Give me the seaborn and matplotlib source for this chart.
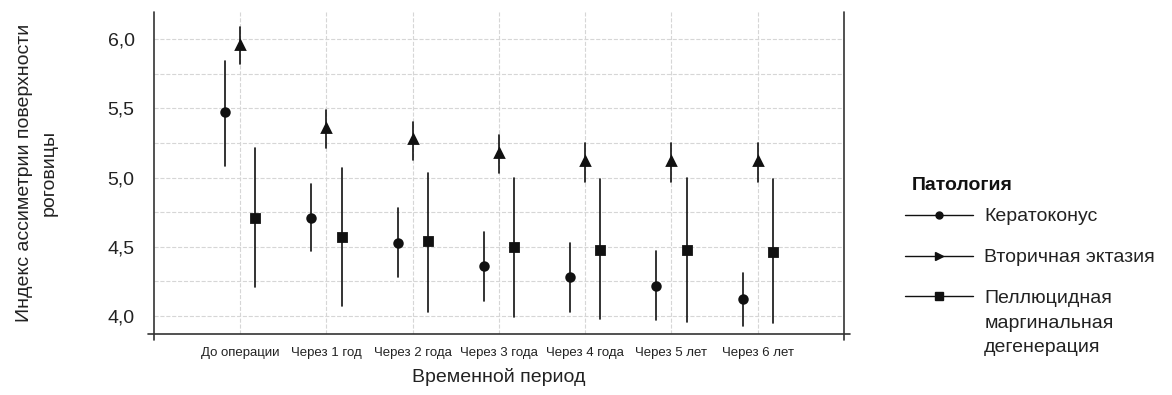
import pandas as pd
import matplotlib
matplotlib.use("Agg")
import matplotlib.pyplot as plt
import seaborn as sns
from matplotlib.lines import Line2D
from matplotlib.ticker import MultipleLocator, FuncFormatter

# Data (mean and error bar ends)
periods = ["До операции", "Через 1 год", "Через 2 года", "Через 3 года",
           "Через 4 года", "Через 5 лет", "Через 6 лет"]
groups = ["Кератоконус", "Вторичная эктазия",
          "Пеллюцидная маргинальная дегенерация"]

kc_mean = [5.47, 4.71, 4.53, 4.36, 4.28, 4.22, 4.12]
kc_low = [5.08, 4.47, 4.28, 4.11, 4.03, 3.97, 3.93]
kc_high = [5.84, 4.95, 4.78, 4.61, 4.53, 4.47, 4.31]

ek_mean = [5.96, 5.36, 5.28, 5.18, 5.12, 5.12, 5.12]
ek_low = [5.82, 5.21, 5.13, 5.03, 4.97, 4.97, 4.97]
ek_high = [6.09, 5.49, 5.40, 5.31, 5.25, 5.25, 5.25]

pmd_mean = [4.71, 4.57, 4.54, 4.50, 4.48, 4.48, 4.46]
pmd_low = [4.21, 4.07, 4.03, 3.99, 3.98, 3.96, 3.95]
pmd_high = [5.21, 5.07, 5.03, 5.00, 4.99, 5.00, 4.99]

legend_labels = ["Кератоконус", "Вторичная эктазия",
                 "Пеллюцидная\nмаргинальная\nдегенерация"]


# Long table: low / mean / high rows per point, median picks the mean
def build_frame():
    rows = []
    series = [(kc_low, kc_mean, kc_high), (ek_low, ek_mean, ek_high),
              (pmd_low, pmd_mean, pmd_high)]
    for g, (lo, me, hi) in zip(groups, series):
        for i, p in enumerate(periods):
            for v in (lo[i], me[i], hi[i]):
                rows.append({"period": p, "group": g, "value": v})
    return pd.DataFrame(rows)


def main():
    sns.set_style("white")
    plt.rcParams["font.family"] = ["Liberation Sans", "DejaVu Sans"]

    df = build_frame()
    fig = plt.figure(figsize=(11.72, 3.95), dpi=100)
    ax = fig.add_axes([0.1314, 0.1544, 0.5887, 0.8152])

    sns.pointplot(data=df, x="period", y="value", hue="group",
                  order=periods, hue_order=groups,
                  estimator="median",
                  errorbar=lambda v: (v.min(), v.max()),
                  dodge=0.35, markers=["o", "^", "s"],
                  linestyles=["none"] * 3,
                  palette=["#111111"] * 3,
                  markersize=5.5, err_kws={"linewidth": 1.2},
                  legend=False, ax=ax)

    ax.set_xlim(-1, 7)
    ax.set_ylim(3.87, 6.195)
    ax.yaxis.set_major_locator(MultipleLocator(0.5))
    ax.yaxis.set_minor_locator(MultipleLocator(0.25))
    ax.yaxis.set_major_formatter(FuncFormatter(lambda v, _: f"{v:.1f}".replace(".", ",")))

    ax.grid(True, which="both", axis="y", color="#d6d6d6", linestyle="--", linewidth=0.8)
    ax.grid(True, which="major", axis="x", color="#d6d6d6", linestyle="--", linewidth=0.8)
    ax.set_axisbelow(True)
    ax.tick_params(axis="both", which="both", length=0)
    ax.tick_params(axis="y", labelsize=14, pad=14, colors="#222222")
    ax.tick_params(axis="x", labelsize=9.5, pad=9, colors="#222222")

    for s in ax.spines.values():
        s.set_visible(False)
    for xs, ys in [([0, 0], [1, -0.02]), ([1, 1], [1, -0.02]), ([-0.009, 1.009], [0, 0])]:
        ax.plot(xs, ys, transform=ax.transAxes, color="#333333", lw=1.2, clip_on=False)

    ax.set_xlabel("Временной период", fontsize=14, color="#222222", labelpad=7)
    ax.set_ylabel("Индекс ассиметрии поверхности\nроговицы", fontsize=14,
                  color="#222222", labelpad=36, linespacing=1.55)

    handles = [Line2D([], [], color="#111111", lw=1, marker=m, markersize=ms)
               for m, ms in [("o", 5), (">", 6), ("s", 6)]]
    leg = ax.legend(handles, legend_labels,
                    loc="upper left", bbox_to_anchor=(1.075, 0.422),
                    frameon=False, fontsize=14, handlelength=3.5,
                    handletextpad=0.55, labelspacing=1.2, borderpad=0)
    for t in leg.get_texts():
        t.set_color("#222222")
    leg.get_texts()[2].set_linespacing(1.6)
    # put the last handle next to the first line of its three-line label
    h = leg.legend_handles[2]
    h.set_ydata(h.get_ydata() + 19)

    fig.text(912 / 1172, 1 - 185 / 395, "Патология", fontsize=14,
             fontweight="bold", color="#111111", ha="left", va="center")

    fig.savefig("out.png", dpi=100)


if __name__ == "__main__":
    main()
